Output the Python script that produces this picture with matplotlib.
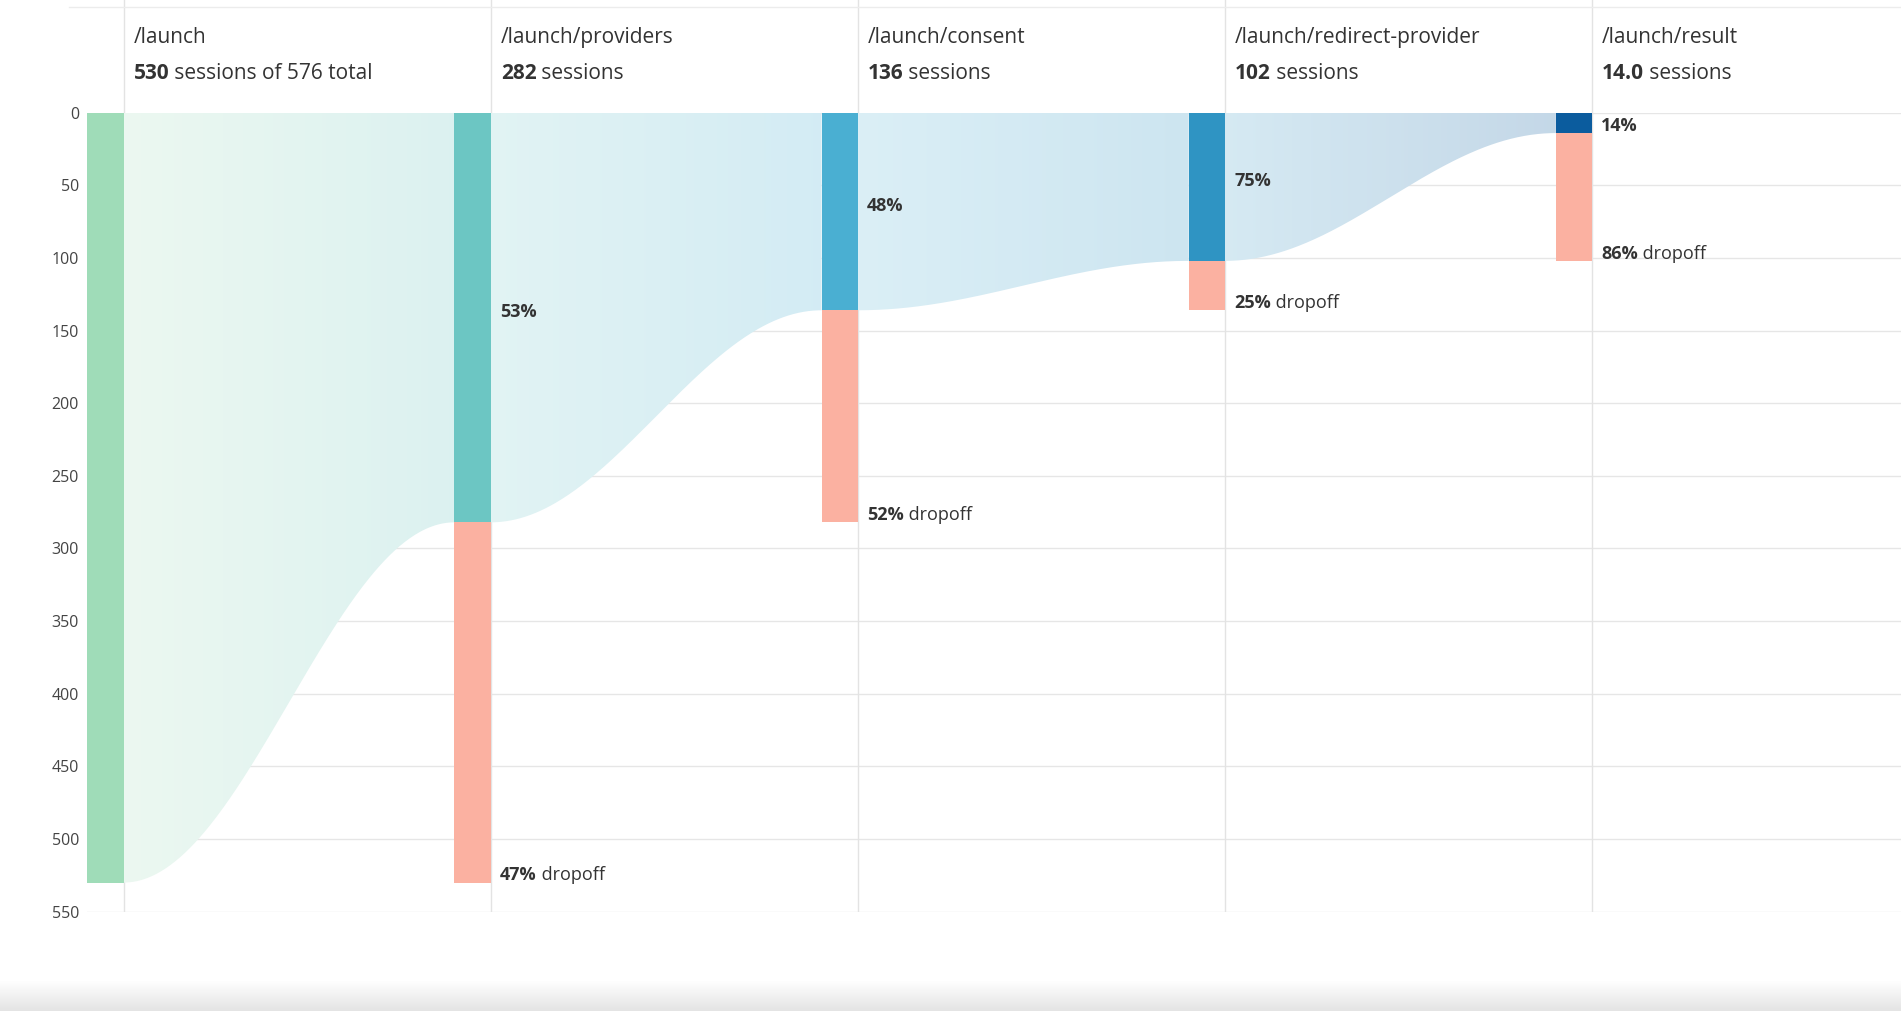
import numpy as np
import matplotlib.pyplot as plt
from matplotlib.patches import Rectangle, PathPatch
from matplotlib.path import Path
from matplotlib.colors import LinearSegmentedColormap, to_rgb
from matplotlib.transforms import offset_copy

plt.rcParams["font.family"] = ["Open Sans", "DejaVu Sans"]

steps = ["/launch", "/launch/providers", "/launch/consent", "/launch/redirect-provider", "/launch/result"]
sessions = [530, 282, 136, 102, 14]
session_text = ["530", "282", "136", "102", "14.0"]
total = 576
kept_pct = [None, "53%", "48%", "75%", "14%"]
drop_pct = [None, "47%", "52%", "25%", "86%"]
bar_colors = ["#9fdcb8", "#6cc6c3", "#4aafd2", "#2f94c3", "#0b5c9e"]
drop_color = "#fbb1a1"

W = 0.099  # bar width in column units

fig = plt.figure(figsize=(19.01, 10.11), dpi=100)
ax = fig.add_axes([0.0459, 0.0983, 0.9541, 0.7902])
ax.set_xlim(0, 4.94)
ax.set_ylim(550, 0)
for s in ax.spines.values():
    s.set_visible(False)
ax.set_xticks([])
ax.set_yticks(np.arange(0, 551, 50))
ax.tick_params(axis="y", length=0, labelsize=11.5, labelcolor="#444444", pad=6)
for y in np.arange(0, 551, 50):
    ax.axhline(y, color="#e6e6e6", lw=1, zorder=0)
for i in range(5):
    ax.axvline(i + W, color="#e3e3e3", lw=1, zorder=0)

# flows
for i in range(4):
    x0, x1 = i + W, i + 1
    xs = np.linspace(x0, x1, 200)
    t = (xs - x0) / (x1 - x0)
    ys = sessions[i] + (sessions[i + 1] - sessions[i]) * (1 - np.cos(np.pi * t)) / 2
    verts = [(x0, 0)] + list(zip(xs, ys)) + [(x1, 0), (x0, 0)]
    patch = PathPatch(Path(verts), facecolor="none", edgecolor="none")
    ax.add_patch(patch)
    c0 = np.array(to_rgb(bar_colors[i]))
    c1 = np.array(to_rgb(bar_colors[i + 1]))
    cmap = LinearSegmentedColormap.from_list("f", [c0 * 0.2 + 0.8, c1 * 0.24 + 0.76])
    im = ax.imshow(np.linspace(0, 1, 256)[None, :], cmap=cmap, aspect="auto",
                   extent=[x0, x1, 550, 0], zorder=1)
    im.set_clip_path(patch)

fig.canvas.draw()
r = fig.canvas.get_renderer()

def two_part(x, y, bold, rest):
    t = ax.text(x, y, bold, fontsize=13, fontweight="bold", color="#333333", va="center", ha="left", zorder=5)
    if rest:
        w = t.get_window_extent(r).width
        ax.text(x, y, rest, fontsize=13, color="#333333", va="center", ha="left", zorder=5,
                transform=offset_copy(ax.transData, fig=fig, x=w * 72 / fig.dpi, units="points"))

for i in range(5):
    ax.add_patch(Rectangle((i, 0), W, sessions[i], facecolor=bar_colors[i], edgecolor="none", zorder=3))
    if i > 0:
        prev = sessions[i - 1]
        ax.add_patch(Rectangle((i, sessions[i]), W, prev - sessions[i], facecolor=drop_color, edgecolor="none", zorder=3))
        two_part(i + W + 0.025, max(sessions[i] / 2 - 4, 9), kept_pct[i], "")
        two_part(i + W + 0.025, prev - 5, drop_pct[i], " dropoff")
    # headers
    hx = i + W + 0.027
    ax.text(hx, -52, steps[i], fontsize=15, color="#333333", va="center", ha="left", clip_on=False)
    extra = " sessions of %d total" % total if i == 0 else " sessions"
    hb = ax.text(hx, -27, session_text[i], fontsize=15, fontweight="bold", color="#333333", va="center", ha="left", clip_on=False)
    w = hb.get_window_extent(r).width
    ax.text(hx, -27, extra, fontsize=15, color="#333333", va="center", ha="left", clip_on=False,
            transform=offset_copy(ax.transData, fig=fig, x=w * 72 / fig.dpi, units="points"))
    ax.plot([i + W, i + W], [0, -78], color="#e3e3e3", lw=1, clip_on=False, zorder=0)

ax.plot([-0.05, 4.94], [-73, -73], color="#ececec", lw=1, clip_on=False)

# grey band at bottom
band = fig.add_axes([0, 0, 1, 0.03])
band.imshow(np.linspace(0, 1, 50)[:, None], cmap=LinearSegmentedColormap.from_list("g", ["#ffffff", "#e4e4e4"]),
            aspect="auto", extent=[0, 1, 0, 1], origin="upper")
band.axis("off")

fig.savefig("out.png", dpi=100)
